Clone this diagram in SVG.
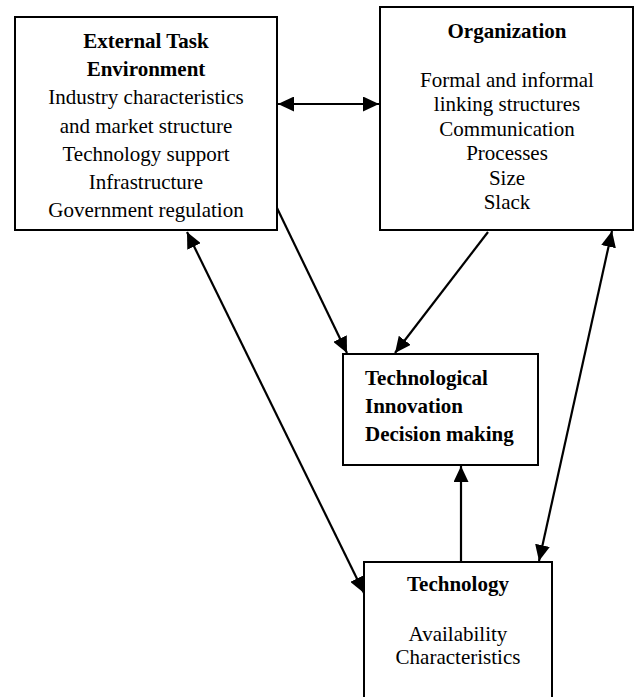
<svg xmlns="http://www.w3.org/2000/svg" width="635" height="697" viewBox="0 0 635 697">
<style>
.box{fill:#fff;stroke:#000;stroke-width:2}
text{font-family:"Liberation Serif","Times New Roman",serif;font-size:21px;fill:#000}
.c{text-anchor:middle}
.b{font-weight:bold}
.edge{stroke:#000;stroke-width:2.2;fill:none}
</style>
<defs>
<marker id="ah" viewBox="0 0 16 15" refX="16" refY="7.5" markerWidth="16" markerHeight="15" markerUnits="userSpaceOnUse" orient="auto-start-reverse">
<path d="M0,0 L16,7.5 L0,15 z" fill="#000"/>
</marker>
</defs>
<rect width="635" height="697" fill="#fff"/>
<g id="connectors">
<line class="edge" x1="278" y1="104" x2="379" y2="104" marker-start="url(#ah)" marker-end="url(#ah)"/>
<line class="edge" x1="277" y1="208" x2="347" y2="353" marker-end="url(#ah)"/>
<line class="edge" x1="488" y1="232" x2="395" y2="353" marker-end="url(#ah)"/>
<line class="edge" x1="187" y1="232" x2="364" y2="593" marker-start="url(#ah)" marker-end="url(#ah)"/>
<line class="edge" x1="461" y1="562" x2="461" y2="466" marker-end="url(#ah)"/>
<line class="edge" x1="612" y1="231" x2="539" y2="561" marker-start="url(#ah)" marker-end="url(#ah)"/>
</g>
<g id="external">
<rect class="box" x="15" y="17" width="262" height="213"/>
<text class="c b" x="146" y="48">External Task</text>
<text class="c b" x="146" y="76">Environment</text>
<text class="c" x="146" y="104">Industry characteristics</text>
<text class="c" x="146" y="133">and market structure</text>
<text class="c" x="146" y="161">Technology support</text>
<text class="c" x="146" y="189">Infrastructure</text>
<text class="c" x="146" y="217">Government regulation</text>
</g>
<g id="organization">
<rect class="box" x="380" y="7" width="253" height="223"/>
<text class="c b" x="507" y="38">Organization</text>
<text class="c" x="507" y="87">Formal and informal</text>
<text class="c" x="507" y="111">linking structures</text>
<text class="c" x="507" y="136">Communication</text>
<text class="c" x="507" y="160">Processes</text>
<text class="c" x="507" y="185">Size</text>
<text class="c" x="507" y="209">Slack</text>
</g>
<g id="innovation">
<rect class="box" x="343" y="354" width="195" height="111"/>
<text class="b" x="365" y="385">Technological</text>
<text class="b" x="365" y="413">Innovation</text>
<text class="b" x="365" y="441">Decision making</text>
</g>
<g id="technology">
<rect class="box" x="364" y="562" width="188" height="160"/>
<text class="c b" x="458" y="591">Technology</text>
<text class="c" x="458" y="641">Availability</text>
<text class="c" x="458" y="664">Characteristics</text>
</g>
</svg>
